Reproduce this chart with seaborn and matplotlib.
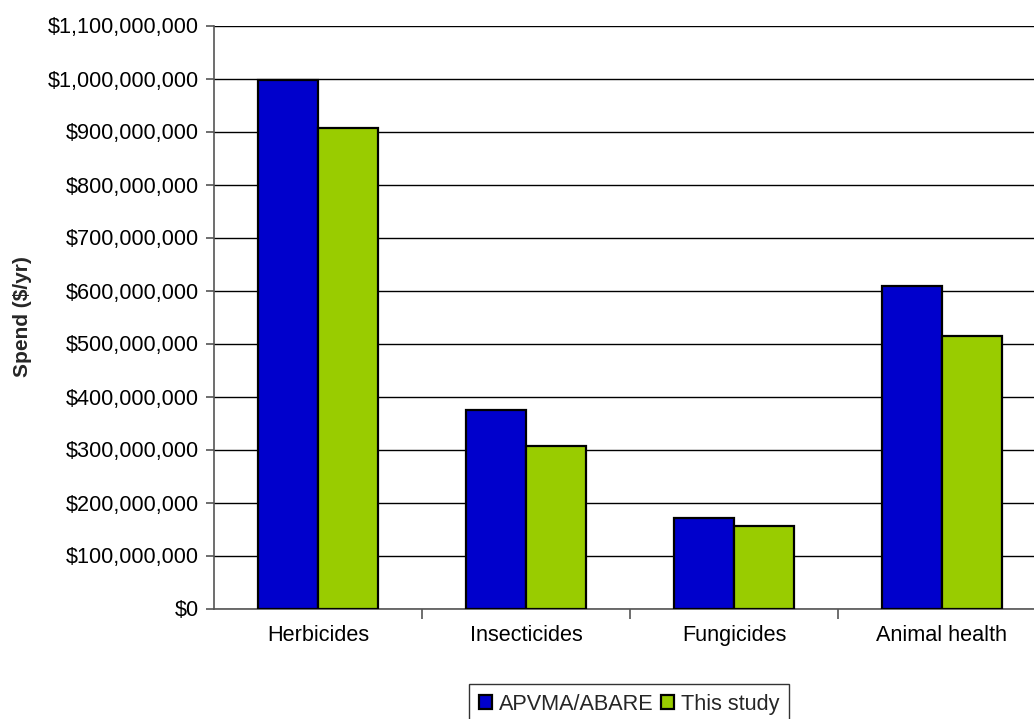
import matplotlib
matplotlib.use("Agg")
import matplotlib.pyplot as plt
from matplotlib.ticker import FuncFormatter, MultipleLocator
import pandas as pd
import seaborn as sns

categories = ["Herbicides", "Insecticides", "Fungicides", "Animal health"]
series_names = ["APVMA/ABARE", "This study"]
apvma_abare = [997e6, 375e6, 171e6, 609e6]
this_study = [906e6, 306e6, 156e6, 514e6]
colors = ["#0000CC", "#99CC00"]

df = pd.DataFrame({
    "Category": categories * 2,
    "Source": [series_names[0]] * 4 + [series_names[1]] * 4,
    "Spend": apvma_abare + this_study,
})

sns.set_theme(style="white")
plt.rcParams["font.family"] = ["Liberation Sans", "DejaVu Sans"]

fig = plt.figure(figsize=(10.34, 7.19), dpi=100)
ax = fig.add_axes([214 / 1034, 1 - 608.5 / 719, 1 - 214 / 1034, (608.5 - 25.5) / 719])

sns.barplot(data=df, x="Category", y="Spend", hue="Source", order=categories,
            hue_order=series_names, palette=colors, width=0.577,
            edgecolor="black", linewidth=1.6, saturation=1, ax=ax, zorder=3)

ax.set_ylim(0, 1.1e9)
# plot area is cut at the right, slightly short of a full last category slot
ax.set_xlim(-0.5, -0.5 + 820 / 208)
ax.yaxis.set_major_locator(MultipleLocator(1e8))
ax.yaxis.set_major_formatter(FuncFormatter(lambda v, _: f"${v:,.0f}"))
ax.grid(axis="y", color="black", linewidth=1.0, zorder=0)
ax.set_axisbelow(True)

for side in ["top", "right"]:
    ax.spines[side].set_visible(False)
for side in ["left", "bottom"]:
    ax.spines[side].set_color("#555555")
    ax.spines[side].set_linewidth(1.2)

ax.tick_params(axis="y", which="major", left=True, length=6, width=1.2,
               color="#555555", labelsize=15.6, pad=5, labelcolor="black")
ax.tick_params(axis="x", which="major", length=0, labelsize=15.6, pad=12,
               labelcolor="black")
ax.set_xticks([0.5, 1.5, 2.5], minor=True)
ax.tick_params(axis="x", which="minor", bottom=True, length=7, width=1.2,
               color="#555555")

ax.set_xlabel("")
ax.set_ylabel("Spend ($/yr)", fontsize=15, fontweight="bold")
ax.yaxis.set_label_coords(-0.222, 0.5)

handles, labels = ax.get_legend_handles_labels()
ax.get_legend().remove()
leg = fig.legend(handles, labels, loc="upper center",
                 bbox_to_anchor=(629 / 1034, 1 - 684 / 719), ncol=2,
                 fontsize=15.6, frameon=True, fancybox=False, edgecolor="black",
                 handlelength=0.62, handleheight=0.62, handletextpad=0.3,
                 columnspacing=0.35, borderpad=0.45, borderaxespad=0)
leg.get_frame().set_linewidth(1.0)

fig.savefig("out.png", dpi=100)
